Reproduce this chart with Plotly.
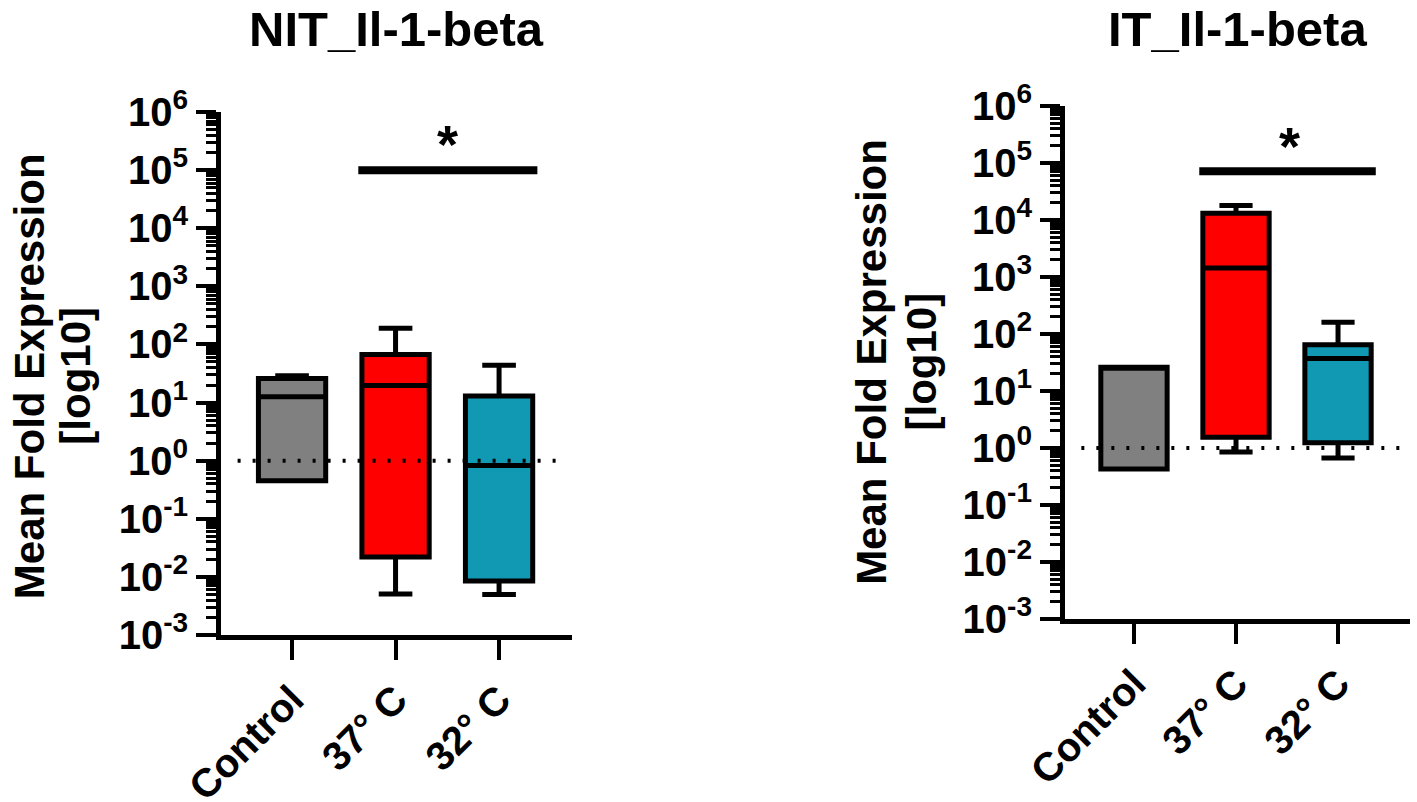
import numpy as np
import plotly.graph_objects as go

# data (fold expression, log scale)
categories = ["Control", "37° C", "32° C"]
colors = ["#808080", "#FF0000", "#1199B4"]

# NIT_Il-1-beta
nit_lowerfence = [0.45, 0.0051, 0.005]
nit_q1 = [0.45, 0.022, 0.0085]
nit_median = [12.6, 19.6, 0.83]
nit_q3 = [26, 67, 13]
nit_upperfence = [29, 190, 44]
nit_sig_level = 1e5

# IT_Il-1-beta
it_lowerfence = [0.43, 0.85, 0.67]
it_q1 = [0.43, 1.55, 1.23]
it_median = [25, 1440, 37]
it_q3 = [26, 13200, 65]
it_upperfence = [26, 18000, 160]
it_sig_level = 7.2e4

baseline = 1
ytick_vals = [1e-3, 1e-2, 1e-1, 1, 1e1, 1e2, 1e3, 1e4, 1e5, 1e6]
ytick_text = ["<b>10<sup>%d</sup></b>" % int(round(np.log10(v))) for v in ytick_vals]

FONT = "Liberation Sans"

fig = go.Figure()


def add_panel(xa, ya, lf, q1, med, q3, uf, sig, xrange):
    # dotted reference line at fold = 1
    fig.add_trace(go.Scatter(
        x=[xrange[0] + 0.16, xrange[1] - 0.05], y=[baseline, baseline],
        mode="lines", line=dict(color="black", width=4, dash="3px,12px"),
        xaxis=xa, yaxis=ya, showlegend=False, hoverinfo="skip"))
    for i, cat in enumerate(categories):
        fig.add_trace(go.Box(
            x=[i], q1=[q1[i]], median=[med[i]], q3=[q3[i]],
            lowerfence=[lf[i]], upperfence=[uf[i]],
            width=0.65, whiskerwidth=0.5, fillcolor=colors[i],
            line=dict(color="black", width=5), boxpoints=False,
            name=cat, xaxis=xa, yaxis=ya, showlegend=False, hoverinfo="skip"))
    # significance bar between 37 and 32
    fig.add_trace(go.Scatter(
        x=[1 - 0.36, 2 + 0.37], y=[sig, sig], mode="lines",
        line=dict(color="black", width=8),
        xaxis=xa, yaxis=ya, showlegend=False, hoverinfo="skip"))


xr1 = [-0.686, 2.705]
xr2 = [-0.676, 2.706]
add_panel("x", "y", nit_lowerfence, nit_q1, nit_median, nit_q3, nit_upperfence, nit_sig_level, xr1)
add_panel("x2", "y2", it_lowerfence, it_q1, it_median, it_q3, it_upperfence, it_sig_level, xr2)

xaxis_style = dict(
    tickmode="array", tickvals=[0, 1, 2],
    ticktext=["<b>%s</b>" % c for c in categories],
    showline=True, linecolor="black", linewidth=5,
    ticks="outside", ticklen=20, tickwidth=4, tickcolor="black",
    tickangle=-45, tickfont=dict(family=FONT, size=40, color="black"),
    showgrid=False, zeroline=False, fixedrange=True, automargin=False)

yaxis_style = dict(
    type="log", range=[-3, 6], tickmode="array",
    tickvals=ytick_vals, ticktext=ytick_text,
    showline=True, linecolor="black", linewidth=5,
    ticks="outside", ticklen=20, tickwidth=4, tickcolor="black",
    tickfont=dict(family=FONT, size=40, color="black"),
    minor=dict(ticks="outside", ticklen=10, tickwidth=3, tickcolor="black", dtick="D1"),
    showgrid=False, zeroline=False, fixedrange=True, automargin=False)

fig.update_layout(
    width=1417, height=802,
    margin=dict(l=0, r=0, t=0, b=0, autoexpand=False),
    paper_bgcolor="white", plot_bgcolor="white",
    boxmode="overlay",
    xaxis=dict(xaxis_style, domain=[0.156, 0.4037], range=xr1, anchor="y"),
    yaxis=dict(yaxis_style, domain=[0.2082, 0.8603], anchor="x"),
    xaxis2=dict(xaxis_style, domain=[0.7516, 0.9951], range=xr2, anchor="y2"),
    yaxis2=dict(yaxis_style, domain=[0.2282, 0.8678], anchor="x2"),
)

ann_font = dict(family=FONT, color="black")


def label(text, x, y, size, angle=0, xref="paper", yref="paper"):
    fig.add_annotation(text=text, xref=xref, yref=yref, x=x, y=y,
                       xanchor="center", yanchor="middle", textangle=angle,
                       showarrow=False, font=dict(ann_font, size=size))


label("<b>NIT_Il-1-beta</b>", 0.2795, 0.964, 49)
label("<b>IT_Il-1-beta</b>", 0.873, 0.964, 49)
label("<b>Mean Fold Expression</b>", 0.0205, 0.531, 42, -90)
label("<b>[log10]</b>", 0.0533, 0.531, 42, -90)
label("<b>Mean Fold Expression</b>", 0.6155, 0.549, 42, -90)
label("<b>[log10]</b>", 0.6505, 0.549, 42, -90)
# significance stars (annotations on log axes take log10 positions)
label("<b>*</b>", 1.5, np.log10(nit_sig_level) + 0.45, 54, xref="x", yref="y")
label("<b>*</b>", 1.52, np.log10(it_sig_level) + 0.45, 54, xref="x2", yref="y2")

fig.write_html("out.html", config={"displayModeBar": False},
               post_script="document.body.style.margin='0';")
